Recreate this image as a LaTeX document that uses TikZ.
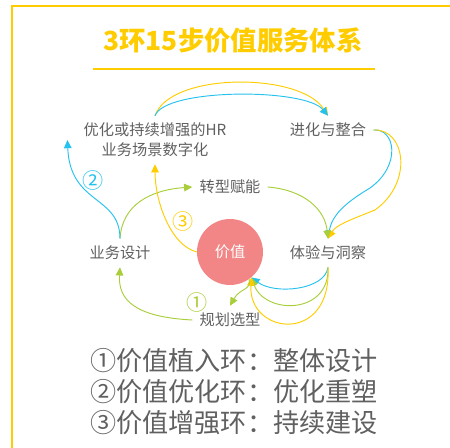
\documentclass[tikz,border=0pt]{standalone}
\usepackage{fontspec}
\setmainfont{Noto Sans CJK SC}
\usetikzlibrary{arrows.meta,calc}
\definecolor{ringyel}{HTML}{FFCC00}
\definecolor{ringblue}{HTML}{25C2EE}
\definecolor{ringgreen}{HTML}{A8CE3A}
\definecolor{valpink}{HTML}{F28585}
\definecolor{txtgray}{HTML}{606060}
\tikzset{
  lbl/.style={text=txtgray, font=\fontsize{13}{17}\selectfont, inner sep=6pt, align=center},
  num/.style={font=\fontsize{18}{18}\selectfont, inner sep=0pt},
  link/.style={line width=0.8pt, -{Triangle[length=7pt,width=6.5pt]}},
  yel/.style={link, ringyel},
  blu/.style={link, ringblue},
  grn/.style={link, ringgreen},
}
\begin{document}
\begin{tikzpicture}[x=0.03cm, y=-0.03cm]
\useasboundingbox (0,0) rectangle (450,447);
\draw[ringyel, line width=2pt] (12,470) -- (12,6) -- (470,6);
\node[ringyel, font=\fontsize{22.5}{22.5}\selectfont\bfseries] (title) at (233,40) {3环15步价值服务体系};
\draw[ringyel, line width=2.4pt] (93,69) -- (375,69);
\node[lbl] (hr) at (155,140) {优化或持续增强的HR\\业务场景数字化};
\node[lbl] (evo) at (328,130) {进化与整合};
\node[lbl] (trans) at (230,187) {转型赋能};
\node[lbl] (biz) at (120,253) {业务设计};
\node[lbl] (eye) at (328,253) {体验与洞察};
\node[lbl] (plan) at (230,320) {规划选型};
\node[circle, fill=valpink, text=white, minimum size=1.98cm, inner sep=0pt, font=\fontsize{13}{15}\selectfont] (val) at (230,252) {价值};
\node[num, ringblue] (n2) at (93,180) {②};
\node[num, ringyel] (n3) at (183,221) {③};
\node[num, ringgreen] (n1) at (197,302) {①};
\draw[yel] (hr.north) .. controls (170,72) and (300,72) .. (evo.north);
\draw[blu] (hr.north) .. controls (165,88) and (305,88) .. (evo.north);
\draw[blu] (evo.east) .. controls (395,128) and (402,165) .. (370,188) .. controls (345,203) and (332,215) .. (eye.north);
\draw[yel] (evo.east) .. controls (405,128) and (414,182) .. (375,210) .. controls (350,220) and (336,225) .. (eye.north);
\draw[grn] (trans.east) .. controls (305,190) and (325,210) .. (eye.north);
\draw[blu] (eye.south) .. controls (325,290) and (275,295) .. (val.-50);
\draw[grn] (eye.south) .. controls (330,315) and (265,315) .. (val.-50);
\draw[yel] (eye.south) .. controls (332,345) and (248,335) .. (val.-50);
\draw[grn] (val.-55) .. controls (252,290) and (240,288) .. (plan.north);
\draw[grn] (plan.west) .. controls (135,317) and (118,300) .. (biz.south);
\draw[grn] (biz.north) .. controls (122,205) and (150,190) .. (trans.west);
\draw[blu] (biz.north) .. controls (120,195) and (70,205) .. ($(hr.west)+(-9,0)$);
\draw[yel] (val.west) .. controls (170,245) and (155,200) .. (hr.south);
\node[text=txtgray, font=\fontsize{22.3}{26.5}\selectfont, align=left] (legend) at (234,392) {①价值植入环：整体设计\\②价值优化环：优化重塑\\③价值增强环：持续建设};
\end{tikzpicture}
\end{document}
